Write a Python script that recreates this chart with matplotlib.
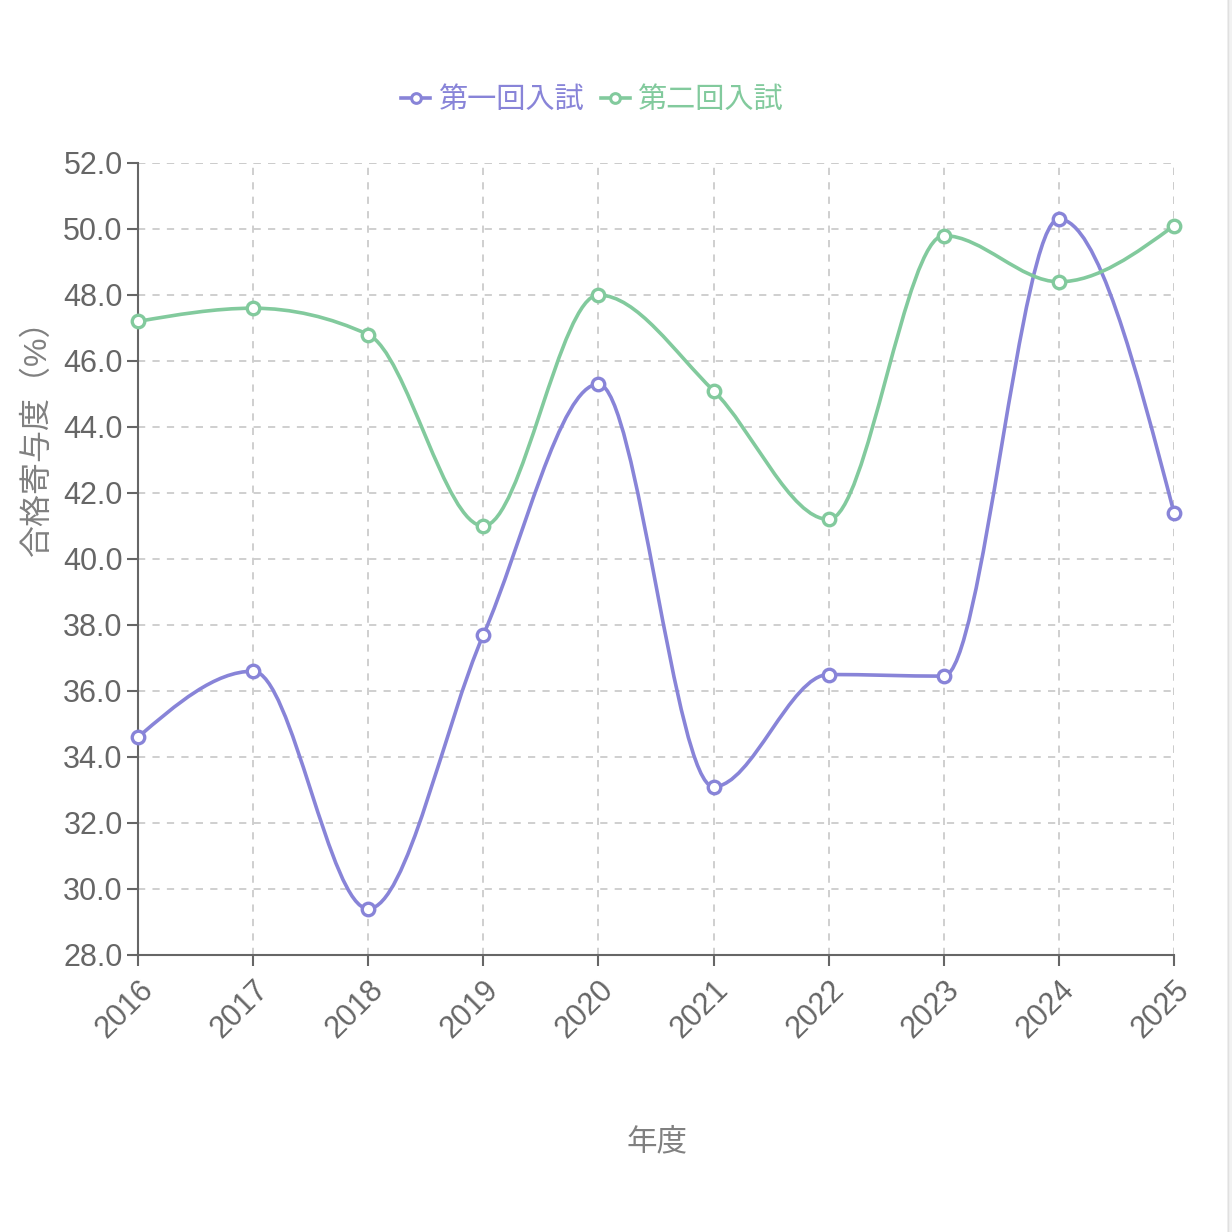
import numpy as np
import matplotlib
matplotlib.use("Agg")
import matplotlib.pyplot as plt
from matplotlib.path import Path
from matplotlib.patches import PathPatch, Rectangle
from matplotlib.lines import Line2D

plt.rcParams['font.family'] = ['Liberation Sans', 'Noto Sans CJK JP', 'DejaVu Sans']

years = ['2016', '2017', '2018', '2019', '2020', '2021', '2022', '2023', '2024', '2025']
first_round = [34.6, 36.6, 29.4, 37.7, 45.3, 33.1, 36.5, 36.45, 50.3, 41.4]
second_round = [47.2, 47.6, 46.8, 41.0, 48.0, 45.1, 41.2, 49.8, 48.4, 50.1]
series_names = ['第一回入試', '第二回入試']
colors = ['#8884d8', '#82ca9d']
y_ticks = [28, 30, 32, 34, 36, 38, 40, 42, 44, 46, 48, 50, 52]


def sgn(v):
    return -1.0 if v < 0 else 1.0


def monotone_path(xs, ys):
    # same idea as d3 curveMonotoneX
    n = len(xs)
    t = np.zeros(n)
    for i in range(1, n - 1):
        h0 = xs[i] - xs[i - 1]
        h1 = xs[i + 1] - xs[i]
        s0 = (ys[i] - ys[i - 1]) / h0
        s1 = (ys[i + 1] - ys[i]) / h1
        p = (s0 * h1 + s1 * h0) / (h0 + h1)
        t[i] = (sgn(s0) + sgn(s1)) * min(abs(s0), abs(s1), 0.5 * abs(p))
    h = xs[1] - xs[0]
    t[0] = (3 * (ys[1] - ys[0]) / h - t[1]) / 2
    h = xs[-1] - xs[-2]
    t[-1] = (3 * (ys[-1] - ys[-2]) / h - t[-2]) / 2
    verts = [(xs[0], ys[0])]
    codes = [Path.MOVETO]
    for i in range(n - 1):
        dx = (xs[i + 1] - xs[i]) / 3
        verts += [(xs[i] + dx, ys[i] + dx * t[i]),
                  (xs[i + 1] - dx, ys[i + 1] - dx * t[i + 1]),
                  (xs[i + 1], ys[i + 1])]
        codes += [Path.CURVE4] * 3
    return Path(verts, codes)


fig = plt.figure(figsize=(12.32, 12.32), dpi=100)
ax = fig.add_axes([138 / 1232, 1 - 955 / 1232, 1036 / 1232, 792 / 1232])

x = np.arange(len(years))
for vals, c in zip([first_round, second_round], colors):
    ax.add_patch(PathPatch(monotone_path(x, vals), facecolor='none', edgecolor=c,
                           lw=2.6, zorder=3, capstyle='round', clip_on=False))
    ax.plot(x, vals, 'o', ms=9, mfc='white', mec=c, mew=2.4, zorder=4, clip_on=False)

ax.set_xlim(0, len(years) - 1)
ax.set_ylim(28, 52)
ax.set_xticks(x)
ax.set_xticklabels(years, rotation=45, ha='right', va='top', rotation_mode='anchor')
ax.set_yticks(y_ticks)
ax.set_yticklabels(['%.1f' % v for v in y_ticks])
ax.tick_params(colors='#666666', labelsize=22, length=8, width=1.5, pad=3)
ax.tick_params(axis='x', pad=6)
ax.grid(True, color='#cccccc', linestyle=(0, (4, 4)), lw=1.3)
for s in ['top', 'right']:
    ax.spines[s].set_visible(False)
for s in ['left', 'bottom']:
    ax.spines[s].set_color('#666666')
    ax.spines[s].set_linewidth(1.5)
# dashed border lines on top/right like the grid
ax.axhline(52, color='#cccccc', linestyle=(0, (4, 4)), lw=1.3, zorder=1)
ax.axvline(len(years) - 1, color='#cccccc', linestyle=(0, (4, 4)), lw=1.3, zorder=1)

fig.text(38 / 1232, 1 - 430 / 1232, '合格寄与度（%）', rotation=90, ha='center', va='center',
         fontsize=23, color='#808080')
fig.text(657 / 1232, 1 - 1142 / 1232, '年度', ha='center', va='center',
         fontsize=22, color='#808080')

handles = [Line2D([0], [0], color=c, lw=2.6, marker='o', ms=7, mfc='white', mec=c, mew=2.2)
           for c in colors]
leg = fig.legend(handles, series_names, loc='center', bbox_to_anchor=(592 / 1232, 1 - 100 / 1232),
                 ncol=2, frameon=False, fontsize=21, handlelength=1.0, handletextpad=0.25,
                 columnspacing=0.6)
for txt, c in zip(leg.get_texts(), colors):
    txt.set_color(c)

fig.patches.append(Rectangle((1227 / 1232, 0), 5 / 1232, 1, transform=fig.transFigure,
                             facecolor='#f2f2f2', edgecolor='none'))
fig.lines.append(Line2D([1227.5 / 1232] * 2, [0, 1], transform=fig.transFigure,
                        color='#e0e0e0', lw=1))

fig.savefig('out.png', dpi=100)
